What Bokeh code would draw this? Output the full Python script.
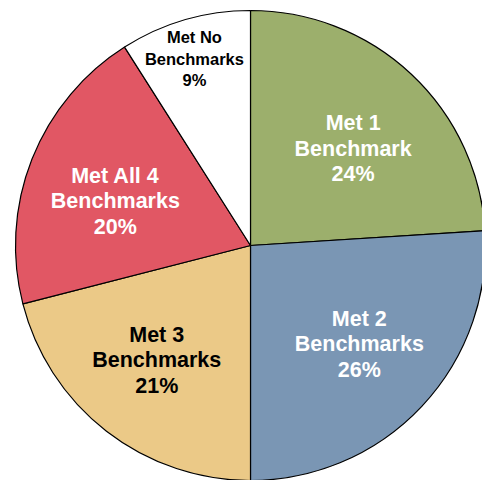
import math
from bokeh.plotting import figure
from bokeh.models import ColumnDataSource, Range1d
from bokeh.core.properties import value
from bokeh.embed import file_html
from bokeh.resources import INLINE

categories = ["Met 1\nBenchmark", "Met 2\nBenchmarks", "Met 3\nBenchmarks",
              "Met All 4\nBenchmarks", "Met No\nBenchmarks"]
percents = [24, 26, 21, 20, 9]
colors = ["#9CAF6C", "#7A96B4", "#EBC987", "#E15764", "#FFFFFF"]
text_colors = ["white", "white", "black", "white", "black"]

# label placement (layout only): radial fraction and angular nudge in degrees
label_rf = [0.60, 0.625, 0.63, 0.605, 0.83]
label_nudge = [-3.5, 1.0, -1.5, 3.5, 0.5]

R = 235
total = sum(percents)
starts, ends = [], []
big = dict(x=[], y=[], label=[], tcolor=[])
small = dict(x=[], y=[], label=[], tcolor=[])
cum = 0
for cat, pct, tc, rf, nd in zip(categories, percents, text_colors, label_rf, label_nudge):
    a0 = math.pi / 2 - 2 * math.pi * cum / total
    cum += pct
    a1 = math.pi / 2 - 2 * math.pi * cum / total
    starts.append(a0)
    ends.append(a1)
    mid = (a0 + a1) / 2 + math.radians(nd)
    d = big if pct >= 15 else small
    d["x"].append(R * rf * math.cos(mid))
    d["y"].append(R * rf * math.sin(mid))
    d["label"].append(f"{cat}\n{pct}%")
    d["tcolor"].append(tc)

src = ColumnDataSource(dict(start=starts, end=ends, color=colors))

p = figure(width=482, height=480, output_backend="svg", toolbar_location=None,
           x_range=Range1d(-250, 232), y_range=Range1d(-235, 245),
           min_border=0, outline_line_color=None)
p.axis.visible = False
p.grid.visible = False
p.background_fill_color = "white"

p.wedge(x=0, y=0, radius=R, start_angle="start", end_angle="end", direction="clock",
        fill_color="color", line_color="black", line_width=1.2, source=src)

p.text(x="x", y="y", text="label", source=ColumnDataSource(big), text_align="center",
       text_baseline="middle", text_color="tcolor", text_font=value("Liberation Sans"),
       text_font_style="bold", text_font_size="21.5px", text_line_height=1.06)
p.text(x="x", y="y", text="label", source=ColumnDataSource(small), text_align="center",
       text_baseline="middle", text_color="tcolor", text_font=value("Liberation Sans"),
       text_font_style="bold", text_font_size="16.5px", text_line_height=1.2)

open("out.html", "w").write(file_html(p, INLINE))
